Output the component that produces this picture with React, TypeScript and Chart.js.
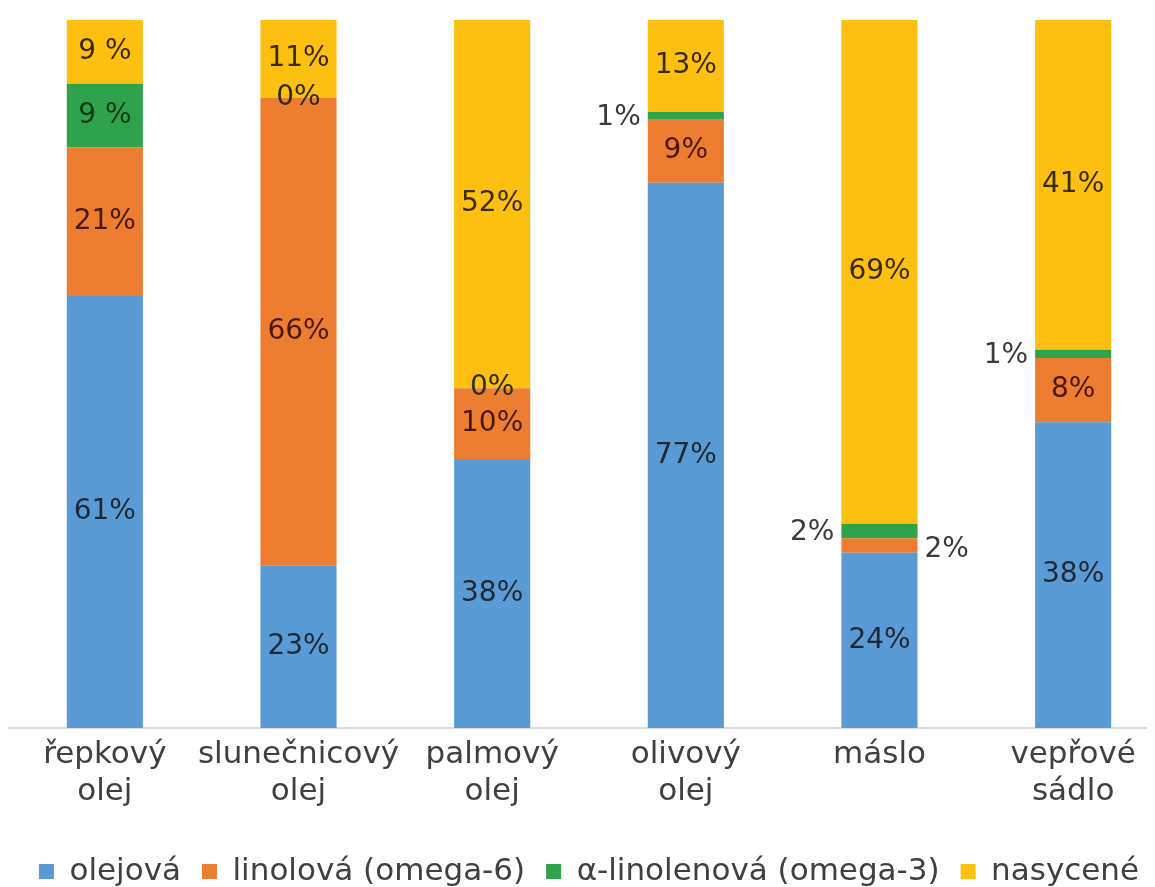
import React, { useEffect, useRef } from 'react';
import { Chart, registerables } from 'chart.js';

Chart.register(...registerables);

// ---- data ----
const categories: string[][] = [
  ['řepkový', 'olej'],
  ['slunečnicový', 'olej'],
  ['palmový', 'olej'],
  ['olivový', 'olej'],
  ['máslo'],
  ['vepřové', 'sádlo'],
];
const seriesNames = ['olejová', 'linolová (omega-6)', 'α-linolenová (omega-3)', 'nasycené'];
const olejova = [61, 23, 38, 77, 24, 38];
const linolova = [21, 66, 10, 9, 2, 8];
const alfaLinolenova = [9, 0, 0, 1, 2, 1];
const nasycene = [9, 11, 52, 13, 69, 41];
const seriesValues = [olejova, linolova, alfaLinolenova, nasycene];

// ---- styles ----
const seriesColors = ['#5b9bd5', '#ed7d31', '#2fa24c', '#fdc010'];
const labelColors = ['#1d2836', '#4a1806', '#0b3a14', '#3b2b00'];
const outsideLabelColor = '#3a3a3a';
const textColor = '#404040';
const FONT = '"DejaVu Sans", sans-serif';

const totals = categories.map((_, ci) => seriesValues.reduce((s, arr) => s + arr[ci], 0));

const formatLabel = (ci: number, di: number, v: number) =>
  ci === 0 && v < 10 ? `${v} %` : `${v}%`;

const segmentLabels = {
  id: 'segmentLabels',
  afterDatasetsDraw(chart: any) {
    const ctx = chart.ctx as CanvasRenderingContext2D;
    ctx.save();
    ctx.font = `28px ${FONT}`;
    ctx.textBaseline = 'middle';
    chart.data.datasets.forEach((_: any, di: number) => {
      const meta = chart.getDatasetMeta(di);
      meta.data.forEach((el: any, ci: number) => {
        const v = seriesValues[di][ci];
        const { x, y, base, width } = el.getProps(['x', 'y', 'base', 'width'], true);
        const cy = (y + base) / 2;
        const text = formatLabel(ci, di, v);
        if (v > 0 && v < 3) {
          ctx.fillStyle = outsideLabelColor;
          if (di === 1) {
            ctx.textAlign = 'left';
            ctx.fillText(text, x + width / 2 + 7, cy + 4);
          } else {
            ctx.textAlign = 'right';
            ctx.fillText(text, x - width / 2 - 7, cy + 2);
          }
        } else {
          ctx.fillStyle = v === 0 ? '#2e2a14' : labelColors[di];
          ctx.textAlign = 'center';
          ctx.fillText(text, x, cy);
        }
      });
    });
    ctx.restore();
  },
};

export default function App() {
  const ref = useRef<HTMLCanvasElement>(null);

  useEffect(() => {
    document.documentElement.style.overflow = 'hidden';
    const canvas = ref.current!;
    const chart = new Chart(canvas, {
      type: 'bar',
      data: {
        labels: categories,
        datasets: seriesNames.map((name, di) => ({
          label: name,
          data: seriesValues[di].map((v, ci) => (v / totals[ci]) * 100),
          backgroundColor: seriesColors[di],
          borderWidth: 0,
          categoryPercentage: 1,
          barPercentage: 0.393,
        })),
      },
      options: {
        responsive: false,
        animation: false,
        layout: { padding: { top: 12, left: 0, right: 0, bottom: 0 } },
        plugins: {
          tooltip: { enabled: false },
          legend: {
            position: 'bottom',
            labels: {
              boxWidth: 15,
              boxHeight: 15,
              padding: 21,
              color: textColor,
              font: { family: FONT, size: 31 },
            },
          },
        },
        scales: {
          x: {
            stacked: true,
            grid: { display: false, drawTicks: false },
            border: { display: true, color: '#dcdcdc', width: 2 },
            ticks: {
              color: textColor,
              font: { family: FONT, size: 31 },
              padding: 8,
              maxRotation: 0,
              minRotation: 0,
              autoSkip: false,
            },
            afterFit: (scale: any) => {
              scale.height = 107;
            },
          },
          y: {
            stacked: true,
            display: false,
            min: 0,
            max: 100,
          },
        },
      },
      plugins: [segmentLabels],
    });
    return () => chart.destroy();
  }, []);

  return (
    <div style={{ width: 1147, height: 879, overflow: 'hidden' }}>
      <canvas ref={ref} width={1162} height={889} style={{ display: 'block', width: 1162, height: 889 }} />
    </div>
  );
}
